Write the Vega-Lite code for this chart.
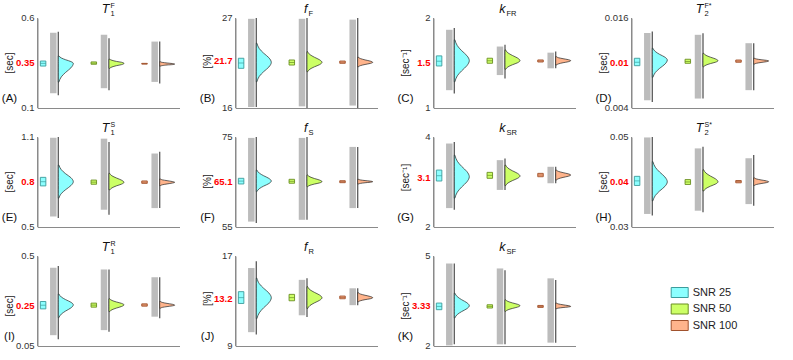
{
"$schema": "https://vega.github.io/schema/vega-lite/v6.json",
"padding": {"left": 0.5, "top": 1, "right": 5, "bottom": 7},
"bounds": "flush",
"data": {"values": [
{"p":"A","k":"lab","r":"max","y":0.6,"lo":0.1,"t":"0.6","m":"T","sb":"1","sp":"F"},
{"p":"A","k":"lab","r":"true","y":0.35,"t":"0.35","u":"[sec]"},
{"p":"A","k":"lab","r":"min","y":0.1,"t":"0.1","L":"(A)"},
{"p":"B","k":"lab","r":"max","y":27,"lo":16,"t":"27","m":"f","sb":"F","sp":""},
{"p":"B","k":"lab","r":"true","y":21.7,"t":"21.7","u":"[%]"},
{"p":"B","k":"lab","r":"min","y":16,"t":"16","L":"(B)"},
{"p":"C","k":"lab","r":"max","y":2,"lo":1,"t":"2","m":"k","sb":"FR","sp":""},
{"p":"C","k":"lab","r":"true","y":1.5,"t":"1.5","u":"[sec⁻¹]"},
{"p":"C","k":"lab","r":"min","y":1,"t":"1","L":"(C)"},
{"p":"D","k":"lab","r":"max","y":0.016,"lo":0.004,"t":"0.016","m":"T","sb":"2","sp":"F*"},
{"p":"D","k":"lab","r":"true","y":0.01,"t":"0.01","u":"[sec]"},
{"p":"D","k":"lab","r":"min","y":0.004,"t":"0.004","L":"(D)"},
{"p":"E","k":"lab","r":"max","y":1.1,"lo":0.5,"t":"1.1","m":"T","sb":"1","sp":"S"},
{"p":"E","k":"lab","r":"true","y":0.8,"t":"0.8","u":"[sec]"},
{"p":"E","k":"lab","r":"min","y":0.5,"t":"0.5","L":"(E)"},
{"p":"F","k":"lab","r":"max","y":75,"lo":55,"t":"75","m":"f","sb":"S","sp":""},
{"p":"F","k":"lab","r":"true","y":65.1,"t":"65.1","u":"[%]"},
{"p":"F","k":"lab","r":"min","y":55,"t":"55","L":"(F)"},
{"p":"G","k":"lab","r":"max","y":4,"lo":2,"t":"4","m":"k","sb":"SR","sp":""},
{"p":"G","k":"lab","r":"true","y":3.1,"t":"3.1","u":"[sec⁻¹]"},
{"p":"G","k":"lab","r":"min","y":2,"t":"2","L":"(G)"},
{"p":"H","k":"lab","r":"max","y":0.05,"lo":0.03,"t":"0.05","m":"T","sb":"2","sp":"S*"},
{"p":"H","k":"lab","r":"true","y":0.04,"t":"0.04","u":"[sec]"},
{"p":"H","k":"lab","r":"min","y":0.03,"t":"0.03","L":"(H)"},
{"p":"I","k":"lab","r":"max","y":0.5,"lo":0.05,"t":"0.5","m":"T","sb":"1","sp":"R"},
{"p":"I","k":"lab","r":"true","y":0.25,"t":"0.25","u":"[sec]"},
{"p":"I","k":"lab","r":"min","y":0.05,"t":"0.05","L":"(I)"},
{"p":"J","k":"lab","r":"max","y":17,"lo":9,"t":"17","m":"f","sb":"R","sp":""},
{"p":"J","k":"lab","r":"true","y":13.2,"t":"13.2","u":"[%]"},
{"p":"J","k":"lab","r":"min","y":9,"t":"9","L":"(J)"},
{"p":"K","k":"lab","r":"max","y":5,"lo":2,"t":"5","m":"k","sb":"SF","sp":""},
{"p":"K","k":"lab","r":"true","y":3.33,"t":"3.33","u":"[sec⁻¹]"},
{"p":"K","k":"lab","r":"min","y":2,"t":"2","L":"(K)"},

{"p":"A","k":"st","s":25,"q1":0.333,"md":0.348,"q3":0.361,"clo":0.182,"chi":0.518,"llo":0.171,"lhi":0.523},
{"p":"A","k":"st","s":50,"q1":0.343,"md":0.349,"q3":0.356,"clo":0.210,"chi":0.507,"llo":0.199,"lhi":0.488},
{"p":"A","k":"st","s":100,"q1":0.344,"md":0.346,"q3":0.348,"clo":0.245,"chi":0.469,"llo":0.236,"lhi":0.469},
{"p":"B","k":"st","s":25,"q1":20.85,"md":21.5,"q3":22.08,"clo":16.12,"chi":26.9,"llo":16.12,"lhi":27},
{"p":"B","k":"st","s":50,"q1":21.25,"md":21.56,"q3":21.87,"clo":16.2,"chi":26.9,"llo":16,"lhi":27},
{"p":"B","k":"st","s":100,"q1":21.46,"md":21.6,"q3":21.74,"clo":16.3,"chi":26.8,"llo":16,"lhi":27},
{"p":"C","k":"st","s":25,"q1":1.467,"md":1.52,"q3":1.579,"clo":1.198,"chi":1.869,"llo":1.161,"lhi":1.888},
{"p":"C","k":"st","s":50,"q1":1.497,"md":1.525,"q3":1.553,"clo":1.366,"chi":1.683,"llo":1.329,"lhi":1.702},
{"p":"C","k":"st","s":100,"q1":1.511,"md":1.522,"q3":1.534,"clo":1.441,"chi":1.615,"llo":1.441,"lhi":1.627},
{"p":"D","k":"st","s":25,"q1":0.00964,"md":0.0101,"q3":0.01063,"clo":0.00503,"chi":0.014,"llo":0.0048,"lhi":0.0142},
{"p":"D","k":"st","s":50,"q1":0.00996,"md":0.0102,"q3":0.0105,"clo":0.00526,"chi":0.01376,"llo":0.00526,"lhi":0.01398},
{"p":"D","k":"st","s":100,"q1":0.0101,"md":0.01025,"q3":0.0104,"clo":0.00638,"chi":0.01264,"llo":0.00638,"lhi":0.01264},
{"p":"E","k":"st","s":25,"q1":0.774,"md":0.802,"q3":0.831,"clo":0.570,"chi":1.095,"llo":0.560,"lhi":1.1},
{"p":"E","k":"st","s":50,"q1":0.785,"md":0.799,"q3":0.813,"clo":0.615,"chi":1.089,"llo":0.581,"lhi":1.067},
{"p":"E","k":"st","s":100,"q1":0.791,"md":0.799,"q3":0.807,"clo":0.626,"chi":0.990,"llo":0.626,"lhi":1.001},
{"p":"F","k":"st","s":25,"q1":64.56,"md":65.2,"q3":65.82,"clo":56.2,"chi":74.8,"llo":55.9,"lhi":75},
{"p":"F","k":"st","s":50,"q1":64.72,"md":65.15,"q3":65.6,"clo":56.6,"chi":74.8,"llo":56.6,"lhi":75},
{"p":"F","k":"st","s":100,"q1":64.85,"md":65.07,"q3":65.29,"clo":59.2,"chi":72.8,"llo":59.2,"lhi":72.8},
{"p":"G","k":"st","s":25,"q1":3.022,"md":3.14,"q3":3.265,"clo":2.42,"chi":3.855,"llo":2.382,"lhi":3.89},
{"p":"G","k":"st","s":50,"q1":3.082,"md":3.148,"q3":3.214,"clo":2.824,"chi":3.486,"llo":2.824,"lhi":3.524},
{"p":"G","k":"st","s":100,"q1":3.117,"md":3.155,"q3":3.192,"clo":2.972,"chi":3.338,"llo":2.972,"lhi":3.338},
{"p":"H","k":"st","s":25,"q1":0.03923,"md":0.04025,"q3":0.04126,"clo":0.0329,"chi":0.0499,"llo":0.03253,"lhi":0.05},
{"p":"H","k":"st","s":50,"q1":0.03945,"md":0.04,"q3":0.04054,"clo":0.03362,"chi":0.04747,"llo":0.03327,"lhi":0.04781},
{"p":"H","k":"st","s":100,"q1":0.03982,"md":0.04008,"q3":0.04033,"clo":0.03509,"chi":0.04528,"llo":0.03472,"lhi":0.046},
{"p":"I","k":"st","s":25,"q1":0.2356,"md":0.254,"q3":0.2725,"clo":0.1041,"chi":0.4413,"llo":0.0839,"lhi":0.4494},
{"p":"I","k":"st","s":50,"q1":0.2442,"md":0.2543,"q3":0.2644,"clo":0.1294,"chi":0.4327,"llo":0.1208,"lhi":0.4327},
{"p":"I","k":"st","s":100,"q1":0.2492,"md":0.255,"q3":0.2608,"clo":0.1966,"chi":0.3938,"llo":0.1885,"lhi":0.3938},
{"p":"J","k":"st","s":25,"q1":12.78,"md":13.3,"q3":13.83,"clo":10.23,"chi":15.93,"llo":10.02,"lhi":16.53},
{"p":"J","k":"st","s":50,"q1":13.02,"md":13.3,"q3":13.59,"clo":11.73,"chi":14.88,"llo":11.58,"lhi":15.03},
{"p":"J","k":"st","s":100,"q1":13.2,"md":13.32,"q3":13.44,"clo":12.63,"chi":14.13,"llo":12.63,"lhi":14.13},
{"p":"K","k":"st","s":25,"q1":3.21,"md":3.32,"q3":3.431,"clo":2.02,"chi":4.75,"llo":2.056,"lhi":4.75},
{"p":"K","k":"st","s":50,"q1":3.266,"md":3.32,"q3":3.375,"clo":2.056,"chi":4.585,"llo":2.056,"lhi":4.529},
{"p":"K","k":"st","s":100,"q1":3.286,"md":3.32,"q3":3.352,"clo":2.112,"chi":4.255,"llo":2.112,"lhi":4.199},

{"p":"A","k":"d","s":25,"y":0.244,"d":0.04},{"p":"A","k":"d","s":25,"y":0.273,"d":0.2},{"p":"A","k":"d","s":25,"y":0.298,"d":0.49},{"p":"A","k":"d","s":25,"y":0.323,"d":0.84},{"p":"A","k":"d","s":25,"y":0.348,"d":1},{"p":"A","k":"d","s":25,"y":0.358,"d":0.84},{"p":"A","k":"d","s":25,"y":0.368,"d":0.49},{"p":"A","k":"d","s":25,"y":0.378,"d":0.2},{"p":"A","k":"d","s":25,"y":0.389,"d":0.04},
{"p":"A","k":"d","s":50,"y":0.320,"d":0.04},{"p":"A","k":"d","s":50,"y":0.328,"d":0.2},{"p":"A","k":"d","s":50,"y":0.335,"d":0.49},{"p":"A","k":"d","s":50,"y":0.341,"d":0.84},{"p":"A","k":"d","s":50,"y":0.348,"d":1},{"p":"A","k":"d","s":50,"y":0.354,"d":0.84},{"p":"A","k":"d","s":50,"y":0.359,"d":0.49},{"p":"A","k":"d","s":50,"y":0.365,"d":0.2},{"p":"A","k":"d","s":50,"y":0.371,"d":0.04},
{"p":"A","k":"d","s":100,"y":0.333,"d":0.04},{"p":"A","k":"d","s":100,"y":0.336,"d":0.2},{"p":"A","k":"d","s":100,"y":0.339,"d":0.49},{"p":"A","k":"d","s":100,"y":0.341,"d":0.84},{"p":"A","k":"d","s":100,"y":0.344,"d":1},{"p":"A","k":"d","s":100,"y":0.347,"d":0.84},{"p":"A","k":"d","s":100,"y":0.350,"d":0.49},{"p":"A","k":"d","s":100,"y":0.353,"d":0.2},{"p":"A","k":"d","s":100,"y":0.357,"d":0.04},
{"p":"B","k":"d","s":25,"y":19.20,"d":0.04},{"p":"B","k":"d","s":25,"y":19.87,"d":0.2},{"p":"B","k":"d","s":25,"y":20.44,"d":0.49},{"p":"B","k":"d","s":25,"y":21.01,"d":0.84},{"p":"B","k":"d","s":25,"y":21.58,"d":1},{"p":"B","k":"d","s":25,"y":22.14,"d":0.84},{"p":"B","k":"d","s":25,"y":22.70,"d":0.49},{"p":"B","k":"d","s":25,"y":23.26,"d":0.2},{"p":"B","k":"d","s":25,"y":23.92,"d":0.04},
{"p":"B","k":"d","s":50,"y":20.43,"d":0.04},{"p":"B","k":"d","s":50,"y":20.75,"d":0.2},{"p":"B","k":"d","s":50,"y":21.03,"d":0.49},{"p":"B","k":"d","s":50,"y":21.30,"d":0.84},{"p":"B","k":"d","s":50,"y":21.58,"d":1},{"p":"B","k":"d","s":50,"y":21.89,"d":0.84},{"p":"B","k":"d","s":50,"y":22.21,"d":0.49},{"p":"B","k":"d","s":50,"y":22.52,"d":0.2},{"p":"B","k":"d","s":50,"y":22.89,"d":0.04},
{"p":"B","k":"d","s":100,"y":21.04,"d":0.04},{"p":"B","k":"d","s":100,"y":21.19,"d":0.2},{"p":"B","k":"d","s":100,"y":21.32,"d":0.49},{"p":"B","k":"d","s":100,"y":21.45,"d":0.84},{"p":"B","k":"d","s":100,"y":21.58,"d":1},{"p":"B","k":"d","s":100,"y":21.73,"d":0.84},{"p":"B","k":"d","s":100,"y":21.88,"d":0.49},{"p":"B","k":"d","s":100,"y":22.03,"d":0.2},{"p":"B","k":"d","s":100,"y":22.2,"d":0.04},
{"p":"C","k":"d","s":25,"y":1.291,"d":0.04},{"p":"C","k":"d","s":25,"y":1.357,"d":0.2},{"p":"C","k":"d","s":25,"y":1.413,"d":0.49},{"p":"C","k":"d","s":25,"y":1.470,"d":0.84},{"p":"C","k":"d","s":25,"y":1.526,"d":1},{"p":"C","k":"d","s":25,"y":1.582,"d":0.84},{"p":"C","k":"d","s":25,"y":1.637,"d":0.49},{"p":"C","k":"d","s":25,"y":1.693,"d":0.2},{"p":"C","k":"d","s":25,"y":1.758,"d":0.04},
{"p":"C","k":"d","s":50,"y":1.430,"d":0.04},{"p":"C","k":"d","s":50,"y":1.457,"d":0.2},{"p":"C","k":"d","s":50,"y":1.480,"d":0.49},{"p":"C","k":"d","s":50,"y":1.503,"d":0.84},{"p":"C","k":"d","s":50,"y":1.526,"d":1},{"p":"C","k":"d","s":50,"y":1.555,"d":0.84},{"p":"C","k":"d","s":50,"y":1.584,"d":0.49},{"p":"C","k":"d","s":50,"y":1.612,"d":0.2},{"p":"C","k":"d","s":50,"y":1.646,"d":0.04},
{"p":"C","k":"d","s":100,"y":1.478,"d":0.04},{"p":"C","k":"d","s":100,"y":1.491,"d":0.2},{"p":"C","k":"d","s":100,"y":1.503,"d":0.49},{"p":"C","k":"d","s":100,"y":1.514,"d":0.84},{"p":"C","k":"d","s":100,"y":1.526,"d":1},{"p":"C","k":"d","s":100,"y":1.537,"d":0.84},{"p":"C","k":"d","s":100,"y":1.548,"d":0.49},{"p":"C","k":"d","s":100,"y":1.558,"d":0.2},{"p":"C","k":"d","s":100,"y":1.571,"d":0.04},
{"p":"D","k":"d","s":25,"y":0.00808,"d":0.04},{"p":"D","k":"d","s":25,"y":0.00873,"d":0.2},{"p":"D","k":"d","s":25,"y":0.00929,"d":0.49},{"p":"D","k":"d","s":25,"y":0.00984,"d":0.84},{"p":"D","k":"d","s":25,"y":0.0104,"d":1},{"p":"D","k":"d","s":25,"y":0.01078,"d":0.84},{"p":"D","k":"d","s":25,"y":0.01115,"d":0.49},{"p":"D","k":"d","s":25,"y":0.01153,"d":0.2},{"p":"D","k":"d","s":25,"y":0.01197,"d":0.04},
{"p":"D","k":"d","s":50,"y":0.0095,"d":0.04},{"p":"D","k":"d","s":50,"y":0.00972,"d":0.2},{"p":"D","k":"d","s":50,"y":0.00992,"d":0.49},{"p":"D","k":"d","s":50,"y":0.01011,"d":0.84},{"p":"D","k":"d","s":50,"y":0.0103,"d":1},{"p":"D","k":"d","s":50,"y":0.01054,"d":0.84},{"p":"D","k":"d","s":50,"y":0.01078,"d":0.49},{"p":"D","k":"d","s":50,"y":0.01102,"d":0.2},{"p":"D","k":"d","s":50,"y":0.0113,"d":0.04},
{"p":"D","k":"d","s":100,"y":0.00986,"d":0.04},{"p":"D","k":"d","s":100,"y":0.00997,"d":0.2},{"p":"D","k":"d","s":100,"y":0.01007,"d":0.49},{"p":"D","k":"d","s":100,"y":0.01017,"d":0.84},{"p":"D","k":"d","s":100,"y":0.01027,"d":1},{"p":"D","k":"d","s":100,"y":0.01036,"d":0.84},{"p":"D","k":"d","s":100,"y":0.01044,"d":0.49},{"p":"D","k":"d","s":100,"y":0.01053,"d":0.2},{"p":"D","k":"d","s":100,"y":0.01063,"d":0.04},
{"p":"E","k":"d","s":25,"y":0.692,"d":0.04},{"p":"E","k":"d","s":25,"y":0.723,"d":0.2},{"p":"E","k":"d","s":25,"y":0.749,"d":0.49},{"p":"E","k":"d","s":25,"y":0.776,"d":0.84},{"p":"E","k":"d","s":25,"y":0.802,"d":1},{"p":"E","k":"d","s":25,"y":0.829,"d":0.84},{"p":"E","k":"d","s":25,"y":0.855,"d":0.49},{"p":"E","k":"d","s":25,"y":0.882,"d":0.2},{"p":"E","k":"d","s":25,"y":0.913,"d":0.04},
{"p":"E","k":"d","s":50,"y":0.747,"d":0.04},{"p":"E","k":"d","s":50,"y":0.761,"d":0.2},{"p":"E","k":"d","s":50,"y":0.774,"d":0.49},{"p":"E","k":"d","s":50,"y":0.786,"d":0.84},{"p":"E","k":"d","s":50,"y":0.798,"d":1},{"p":"E","k":"d","s":50,"y":0.812,"d":0.84},{"p":"E","k":"d","s":50,"y":0.827,"d":0.49},{"p":"E","k":"d","s":50,"y":0.841,"d":0.2},{"p":"E","k":"d","s":50,"y":0.858,"d":0.04},
{"p":"E","k":"d","s":100,"y":0.776,"d":0.04},{"p":"E","k":"d","s":100,"y":0.782,"d":0.2},{"p":"E","k":"d","s":100,"y":0.787,"d":0.49},{"p":"E","k":"d","s":100,"y":0.793,"d":0.84},{"p":"E","k":"d","s":100,"y":0.798,"d":1},{"p":"E","k":"d","s":100,"y":0.803,"d":0.84},{"p":"E","k":"d","s":100,"y":0.809,"d":0.49},{"p":"E","k":"d","s":100,"y":0.814,"d":0.2},{"p":"E","k":"d","s":100,"y":0.820,"d":0.04},
{"p":"F","k":"d","s":25,"y":62.86,"d":0.04},{"p":"F","k":"d","s":25,"y":63.52,"d":0.2},{"p":"F","k":"d","s":25,"y":64.09,"d":0.49},{"p":"F","k":"d","s":25,"y":64.65,"d":0.84},{"p":"F","k":"d","s":25,"y":65.22,"d":1},{"p":"F","k":"d","s":25,"y":65.80,"d":0.84},{"p":"F","k":"d","s":25,"y":66.39,"d":0.49},{"p":"F","k":"d","s":25,"y":66.97,"d":0.2},{"p":"F","k":"d","s":25,"y":67.65,"d":0.04},
{"p":"F","k":"d","s":50,"y":63.96,"d":0.04},{"p":"F","k":"d","s":50,"y":64.27,"d":0.2},{"p":"F","k":"d","s":50,"y":64.54,"d":0.49},{"p":"F","k":"d","s":50,"y":64.80,"d":0.84},{"p":"F","k":"d","s":50,"y":65.07,"d":1},{"p":"F","k":"d","s":50,"y":65.43,"d":0.84},{"p":"F","k":"d","s":50,"y":65.78,"d":0.49},{"p":"F","k":"d","s":50,"y":66.14,"d":0.2},{"p":"F","k":"d","s":50,"y":66.55,"d":0.04},
{"p":"F","k":"d","s":100,"y":64.56,"d":0.04},{"p":"F","k":"d","s":100,"y":64.70,"d":0.2},{"p":"F","k":"d","s":100,"y":64.83,"d":0.49},{"p":"F","k":"d","s":100,"y":64.95,"d":0.84},{"p":"F","k":"d","s":100,"y":65.07,"d":1},{"p":"F","k":"d","s":100,"y":65.2,"d":0.84},{"p":"F","k":"d","s":100,"y":65.32,"d":0.49},{"p":"F","k":"d","s":100,"y":65.45,"d":0.2},{"p":"F","k":"d","s":100,"y":65.6,"d":0.04},
{"p":"G","k":"d","s":25,"y":2.640,"d":0.04},{"p":"G","k":"d","s":25,"y":2.774,"d":0.2},{"p":"G","k":"d","s":25,"y":2.888,"d":0.49},{"p":"G","k":"d","s":25,"y":3.003,"d":0.84},{"p":"G","k":"d","s":25,"y":3.117,"d":1},{"p":"G","k":"d","s":25,"y":3.232,"d":0.84},{"p":"G","k":"d","s":25,"y":3.347,"d":0.49},{"p":"G","k":"d","s":25,"y":3.462,"d":0.2},{"p":"G","k":"d","s":25,"y":3.596,"d":0.04},
{"p":"G","k":"d","s":50,"y":2.919,"d":0.04},{"p":"G","k":"d","s":50,"y":2.979,"d":0.2},{"p":"G","k":"d","s":50,"y":3.030,"d":0.49},{"p":"G","k":"d","s":50,"y":3.082,"d":0.84},{"p":"G","k":"d","s":50,"y":3.133,"d":1},{"p":"G","k":"d","s":50,"y":3.191,"d":0.84},{"p":"G","k":"d","s":50,"y":3.250,"d":0.49},{"p":"G","k":"d","s":50,"y":3.308,"d":0.2},{"p":"G","k":"d","s":50,"y":3.376,"d":0.04},
{"p":"G","k":"d","s":100,"y":3.044,"d":0.04},{"p":"G","k":"d","s":100,"y":3.075,"d":0.2},{"p":"G","k":"d","s":100,"y":3.102,"d":0.49},{"p":"G","k":"d","s":100,"y":3.128,"d":0.84},{"p":"G","k":"d","s":100,"y":3.155,"d":1},{"p":"G","k":"d","s":100,"y":3.181,"d":0.84},{"p":"G","k":"d","s":100,"y":3.208,"d":0.49},{"p":"G","k":"d","s":100,"y":3.234,"d":0.2},{"p":"G","k":"d","s":100,"y":3.265,"d":0.04},
{"p":"H","k":"d","s":25,"y":0.03581,"d":0.04},{"p":"H","k":"d","s":25,"y":0.03699,"d":0.2},{"p":"H","k":"d","s":25,"y":0.03801,"d":0.49},{"p":"H","k":"d","s":25,"y":0.03902,"d":0.84},{"p":"H","k":"d","s":25,"y":0.04004,"d":1},{"p":"H","k":"d","s":25,"y":0.04112,"d":0.84},{"p":"H","k":"d","s":25,"y":0.0422,"d":0.49},{"p":"H","k":"d","s":25,"y":0.04328,"d":0.2},{"p":"H","k":"d","s":25,"y":0.04454,"d":0.04},
{"p":"H","k":"d","s":50,"y":0.03799,"d":0.04},{"p":"H","k":"d","s":50,"y":0.03856,"d":0.2},{"p":"H","k":"d","s":50,"y":0.03906,"d":0.49},{"p":"H","k":"d","s":50,"y":0.03955,"d":0.84},{"p":"H","k":"d","s":50,"y":0.04004,"d":1},{"p":"H","k":"d","s":50,"y":0.04069,"d":0.84},{"p":"H","k":"d","s":50,"y":0.04133,"d":0.49},{"p":"H","k":"d","s":50,"y":0.04198,"d":0.2},{"p":"H","k":"d","s":50,"y":0.04273,"d":0.04},
{"p":"H","k":"d","s":100,"y":0.03923,"d":0.04},{"p":"H","k":"d","s":100,"y":0.03946,"d":0.2},{"p":"H","k":"d","s":100,"y":0.03965,"d":0.49},{"p":"H","k":"d","s":100,"y":0.03985,"d":0.84},{"p":"H","k":"d","s":100,"y":0.04004,"d":1},{"p":"H","k":"d","s":100,"y":0.04025,"d":0.84},{"p":"H","k":"d","s":100,"y":0.04046,"d":0.49},{"p":"H","k":"d","s":100,"y":0.04067,"d":0.2},{"p":"H","k":"d","s":100,"y":0.04092,"d":0.04},
{"p":"I","k":"d","s":25,"y":0.1916,"d":0.04},{"p":"I","k":"d","s":25,"y":0.2096,"d":0.2},{"p":"I","k":"d","s":25,"y":0.2250,"d":0.49},{"p":"I","k":"d","s":25,"y":0.2404,"d":0.84},{"p":"I","k":"d","s":25,"y":0.2558,"d":1},{"p":"I","k":"d","s":25,"y":0.2688,"d":0.84},{"p":"I","k":"d","s":25,"y":0.2818,"d":0.49},{"p":"I","k":"d","s":25,"y":0.2948,"d":0.2},{"p":"I","k":"d","s":25,"y":0.3099,"d":0.04},
{"p":"I","k":"d","s":50,"y":0.2219,"d":0.04},{"p":"I","k":"d","s":50,"y":0.2314,"d":0.2},{"p":"I","k":"d","s":50,"y":0.2395,"d":0.49},{"p":"I","k":"d","s":50,"y":0.2477,"d":0.84},{"p":"I","k":"d","s":50,"y":0.2558,"d":1},{"p":"I","k":"d","s":50,"y":0.2631,"d":0.84},{"p":"I","k":"d","s":50,"y":0.2703,"d":0.49},{"p":"I","k":"d","s":50,"y":0.2776,"d":0.2},{"p":"I","k":"d","s":50,"y":0.2861,"d":0.04},
{"p":"I","k":"d","s":100,"y":0.2391,"d":0.04},{"p":"I","k":"d","s":100,"y":0.2434,"d":0.2},{"p":"I","k":"d","s":100,"y":0.2470,"d":0.49},{"p":"I","k":"d","s":100,"y":0.2507,"d":0.84},{"p":"I","k":"d","s":100,"y":0.2543,"d":1},{"p":"I","k":"d","s":100,"y":0.2587,"d":0.84},{"p":"I","k":"d","s":100,"y":0.2630,"d":0.49},{"p":"I","k":"d","s":100,"y":0.2674,"d":0.2},{"p":"I","k":"d","s":100,"y":0.2725,"d":0.04},
{"p":"J","k":"d","s":25,"y":11.43,"d":0.04},{"p":"J","k":"d","s":25,"y":11.95,"d":0.2},{"p":"J","k":"d","s":25,"y":12.40,"d":0.49},{"p":"J","k":"d","s":25,"y":12.84,"d":0.84},{"p":"J","k":"d","s":25,"y":13.29,"d":1},{"p":"J","k":"d","s":25,"y":13.71,"d":0.84},{"p":"J","k":"d","s":25,"y":14.13,"d":0.49},{"p":"J","k":"d","s":25,"y":14.54,"d":0.2},{"p":"J","k":"d","s":25,"y":15.03,"d":0.04},
{"p":"J","k":"d","s":50,"y":12.33,"d":0.04},{"p":"J","k":"d","s":50,"y":12.60,"d":0.2},{"p":"J","k":"d","s":50,"y":12.83,"d":0.49},{"p":"J","k":"d","s":50,"y":13.06,"d":0.84},{"p":"J","k":"d","s":50,"y":13.29,"d":1},{"p":"J","k":"d","s":50,"y":13.53,"d":0.84},{"p":"J","k":"d","s":50,"y":13.77,"d":0.49},{"p":"J","k":"d","s":50,"y":14.00,"d":0.2},{"p":"J","k":"d","s":50,"y":14.28,"d":0.04},
{"p":"J","k":"d","s":100,"y":12.93,"d":0.04},{"p":"J","k":"d","s":100,"y":13.03,"d":0.2},{"p":"J","k":"d","s":100,"y":13.12,"d":0.49},{"p":"J","k":"d","s":100,"y":13.20,"d":0.84},{"p":"J","k":"d","s":100,"y":13.29,"d":1},{"p":"J","k":"d","s":100,"y":13.40,"d":0.84},{"p":"J","k":"d","s":100,"y":13.51,"d":0.49},{"p":"J","k":"d","s":100,"y":13.61,"d":0.2},{"p":"J","k":"d","s":100,"y":13.74,"d":0.04},
{"p":"K","k":"d","s":25,"y":2.936,"d":0.04},{"p":"K","k":"d","s":25,"y":3.050,"d":0.2},{"p":"K","k":"d","s":25,"y":3.147,"d":0.49},{"p":"K","k":"d","s":25,"y":3.245,"d":0.84},{"p":"K","k":"d","s":25,"y":3.342,"d":1},{"p":"K","k":"d","s":25,"y":3.443,"d":0.84},{"p":"K","k":"d","s":25,"y":3.543,"d":0.49},{"p":"K","k":"d","s":25,"y":3.644,"d":0.2},{"p":"K","k":"d","s":25,"y":3.761,"d":0.04},
{"p":"K","k":"d","s":50,"y":3.154,"d":0.04},{"p":"K","k":"d","s":50,"y":3.207,"d":0.2},{"p":"K","k":"d","s":50,"y":3.252,"d":0.49},{"p":"K","k":"d","s":50,"y":3.297,"d":0.84},{"p":"K","k":"d","s":50,"y":3.342,"d":1},{"p":"K","k":"d","s":50,"y":3.390,"d":0.84},{"p":"K","k":"d","s":50,"y":3.437,"d":0.49},{"p":"K","k":"d","s":50,"y":3.485,"d":0.2},{"p":"K","k":"d","s":50,"y":3.540,"d":0.04},
{"p":"K","k":"d","s":100,"y":3.243,"d":0.04},{"p":"K","k":"d","s":100,"y":3.264,"d":0.2},{"p":"K","k":"d","s":100,"y":3.283,"d":0.49},{"p":"K","k":"d","s":100,"y":3.301,"d":0.84},{"p":"K","k":"d","s":100,"y":3.319,"d":1},{"p":"K","k":"d","s":100,"y":3.346,"d":0.84},{"p":"K","k":"d","s":100,"y":3.373,"d":0.49},{"p":"K","k":"d","s":100,"y":3.400,"d":0.2},{"p":"K","k":"d","s":100,"y":3.431,"d":0.04}
]},
"facet": {"field": "p", "type": "nominal", "title": null, "header": {"labels": false, "labelFontSize": 0, "labelPadding": 0, "labelExpr": "''", "title": null}, "sort": ["A","B","C","D","E","F","G","H","I","J","K"]},
"columns": 4,
"spacing": {"row": 29, "column": 56},
"resolve": {"scale": {"y": "independent", "x": "independent"}, "axis": {"y": "independent", "x": "independent"}},
"spec": {
  "width": 142,
  "height": 90,
  "resolve": {"scale": {"x": "independent"}},
  "layer": [
    {
      "transform": [{"filter": "datum.k == 'st'"}],
      "mark": {"type": "rule", "strokeWidth": 6.5, "color": "#bcbcbc", "strokeCap": "butt"},
      "encoding": {
        "x": {"field": "s", "type": "ordinal", "scale": {"type": "point", "domain": [25, 50, 100], "range": [15.8, 117.2], "padding": 0}, "axis": null},
        "y": {"field": "clo", "type": "quantitative", "title": null, "scale": {"zero": false, "nice": false}, "axis": null},
        "y2": {"field": "chi"}
      }
    },
    {
      "transform": [{"filter": "datum.k == 'st'"}],
      "mark": {"type": "rule", "strokeWidth": 1.3, "color": "#5a5a5a"},
      "encoding": {
        "x": {"field": "s", "type": "ordinal", "scale": {"type": "point", "domain": [25, 50, 100], "range": [20.8, 122.2], "padding": 0}, "axis": null},
        "y": {"field": "llo", "type": "quantitative", "title": null, "scale": {"zero": false, "nice": false}, "axis": null},
        "y2": {"field": "lhi"}
      }
    },
    {
      "transform": [{"filter": "datum.k == 'd' && datum.s == 25"}],
      "mark": {"type": "area", "orient": "horizontal", "interpolate": "monotone", "stroke": "#222222", "strokeWidth": 0.7},
      "encoding": {
        "x": {"field": "d", "type": "quantitative", "title": null, "scale": {"domain": [0, 1], "range": [20.8, 35.8], "nice": false, "zero": false}, "axis": null},
        "x2": {"datum": 0},
        "y": {"field": "y", "type": "quantitative", "title": null, "scale": {"zero": false, "nice": false}, "axis": null},
        "fill": {"field": "s", "type": "ordinal", "scale": {"domain": [25, 50, 100], "range": ["#8cffff", "#ccff66", "#ffb48c"]},
          "legend": {"orient": "none", "legendX": 636.7, "legendY": 269, "title": null, "padding": 0, "symbolType": "M-1.7,-1H1.7V1H-1.7Z", "symbolSize": 100, "symbolStrokeColor": "#777777", "symbolStrokeWidth": 1, "symbolOpacity": 1, "labelFontSize": 11, "labelFont": "Liberation Sans", "labelColor": "#222222", "labelOffset": 7.5, "rowPadding": 1.5, "labelExpr": "'SNR ' + datum.label"}}
      }
    },
    {
      "transform": [{"filter": "datum.k == 'd' && datum.s == 50"}],
      "mark": {"type": "area", "orient": "horizontal", "interpolate": "monotone", "stroke": "#222222", "strokeWidth": 0.7},
      "encoding": {
        "x": {"field": "d", "type": "quantitative", "title": null, "scale": {"domain": [0, 1], "range": [71.5, 86.5], "nice": false, "zero": false}, "axis": null},
        "x2": {"datum": 0},
        "y": {"field": "y", "type": "quantitative", "title": null, "scale": {"zero": false, "nice": false}, "axis": null},
        "fill": {"field": "s", "type": "ordinal", "scale": {"domain": [25, 50, 100], "range": ["#8cffff", "#ccff66", "#ffb48c"]}}
      }
    },
    {
      "transform": [{"filter": "datum.k == 'd' && datum.s == 100"}],
      "mark": {"type": "area", "orient": "horizontal", "interpolate": "monotone", "stroke": "#222222", "strokeWidth": 0.7},
      "encoding": {
        "x": {"field": "d", "type": "quantitative", "title": null, "scale": {"domain": [0, 1], "range": [122.2, 137.2], "nice": false, "zero": false}, "axis": null},
        "x2": {"datum": 0},
        "y": {"field": "y", "type": "quantitative", "title": null, "scale": {"zero": false, "nice": false}, "axis": null},
        "fill": {"field": "s", "type": "ordinal", "scale": {"domain": [25, 50, 100], "range": ["#8cffff", "#ccff66", "#ffb48c"]}}
      }
    },
    {
      "transform": [{"filter": "datum.k == 'st'"}],
      "mark": {"type": "bar", "width": 5.5, "strokeWidth": 0.9},
      "encoding": {
        "x": {"field": "s", "type": "ordinal", "scale": {"type": "point", "domain": [25, 50, 100], "range": [5.6, 107], "padding": 0}, "axis": null},
        "y": {"field": "q1", "type": "quantitative", "title": null, "scale": {"zero": false, "nice": false}, "axis": null},
        "y2": {"field": "q3"},
        "fill": {"field": "s", "type": "ordinal", "scale": {"domain": [25, 50, 100], "range": ["#8cffff", "#ccff66", "#ffb48c"]}},
        "stroke": {"field": "s", "type": "ordinal", "scale": {"domain": [25, 50, 100], "range": ["#3c9c9c", "#6b8e23", "#a0522d"]}, "legend": null}
      }
    },
    {
      "transform": [{"filter": "datum.k == 'st'"}],
      "mark": {"type": "tick", "size": 5.5, "thickness": 1, "orient": "horizontal"},
      "encoding": {
        "x": {"field": "s", "type": "ordinal", "scale": {"type": "point", "domain": [25, 50, 100], "range": [5.6, 107], "padding": 0}, "axis": null},
        "y": {"field": "md", "type": "quantitative", "title": null, "scale": {"zero": false, "nice": false}, "axis": null},
        "color": {"field": "s", "type": "ordinal", "scale": {"domain": [25, 50, 100], "range": ["#3c9c9c", "#6b8e23", "#a0522d"]}, "legend": null}
      }
    },
    {
      "transform": [{"filter": "datum.k == 'lab' && datum.r == 'max'"}],
      "mark": {"type": "rule", "color": "#8a8a8a", "strokeWidth": 1},
      "encoding": {
        "x": {"field": "r", "type": "nominal", "scale": {"type": "point", "domain": ["max"], "range": [0, 0]}, "axis": null},
        "y": {"field": "y", "type": "quantitative", "title": null, "scale": {"zero": false, "nice": false}, "axis": null},
        "y2": {"field": "lo"}
      }
    },
    {
      "transform": [{"filter": "datum.k == 'lab' && datum.r != 'true'"}],
      "mark": {"type": "text", "align": "right", "baseline": "middle", "dx": -3, "fontSize": 9.5, "font": "Liberation Sans", "color": "#333333"},
      "encoding": {
        "x": {"value": 0},
        "y": {"field": "y", "type": "quantitative", "title": null, "scale": {"zero": false, "nice": false}, "axis": null},
        "text": {"field": "t"}
      }
    },
    {
      "transform": [{"filter": "datum.k == 'lab' && datum.r == 'true'"}],
      "mark": {"type": "text", "align": "right", "baseline": "middle", "dx": -3, "fontSize": 9.5, "font": "Liberation Sans", "fontWeight": "bold", "color": "#ff0000"},
      "encoding": {
        "x": {"value": 0},
        "y": {"field": "y", "type": "quantitative", "title": null, "scale": {"zero": false, "nice": false}, "axis": null},
        "text": {"field": "t"}
      }
    },
    {
      "transform": [{"filter": "datum.k == 'lab' && datum.r == 'true'"}],
      "mark": {"type": "text", "align": "center", "baseline": "middle", "angle": 270, "fontSize": 10, "font": "Liberation Sans", "color": "#222222"},
      "encoding": {
        "x": {"value": -28},
        "y": {"field": "y", "type": "quantitative", "title": null, "scale": {"zero": false, "nice": false}, "axis": null},
        "text": {"field": "u"}
      }
    },
    {
      "transform": [{"filter": "datum.k == 'lab' && datum.r == 'min'"}],
      "mark": {"type": "text", "align": "center", "baseline": "alphabetic", "dy": -6, "fontSize": 11.5, "font": "Liberation Sans", "color": "#111111"},
      "encoding": {
        "x": {"value": -28},
        "y": {"field": "y", "type": "quantitative", "title": null, "scale": {"zero": false, "nice": false}, "axis": null},
        "text": {"field": "L"}
      }
    },
    {
      "transform": [{"filter": "datum.k == 'lab' && datum.r == 'max'"}],
      "mark": {"type": "text", "align": "right", "baseline": "alphabetic", "dy": -5, "dx": 1, "fontSize": 12.5, "fontStyle": "italic", "font": "Liberation Sans", "color": "#111111"},
      "encoding": {
        "y": {"field": "y", "type": "quantitative", "title": null, "scale": {"zero": false, "nice": false}, "axis": null},
        "text": {"field": "m"}
      }
    },
    {
      "transform": [{"filter": "datum.k == 'lab' && datum.r == 'max'"}],
      "mark": {"type": "text", "align": "left", "baseline": "alphabetic", "dy": -2, "dx": 2, "fontSize": 7.5, "font": "Liberation Sans", "color": "#111111"},
      "encoding": {
        "y": {"field": "y", "type": "quantitative", "title": null, "scale": {"zero": false, "nice": false}, "axis": null},
        "text": {"field": "sb"}
      }
    },
    {
      "transform": [{"filter": "datum.k == 'lab' && datum.r == 'max'"}],
      "mark": {"type": "text", "align": "left", "baseline": "alphabetic", "dy": -10, "dx": 2, "fontSize": 7, "font": "Liberation Sans", "color": "#111111"},
      "encoding": {
        "y": {"field": "y", "type": "quantitative", "title": null, "scale": {"zero": false, "nice": false}, "axis": null},
        "text": {"field": "sp"}
      }
    }
  ]
},
"config": {"view": {"stroke": "#8a8a8a", "strokeWidth": 1, "strokeDash": [0, 232, 232, 0]}, "font": "Liberation Sans", "header": {"labels": false, "labelFontSize": 0, "labelPadding": 0, "title": null}}
}
